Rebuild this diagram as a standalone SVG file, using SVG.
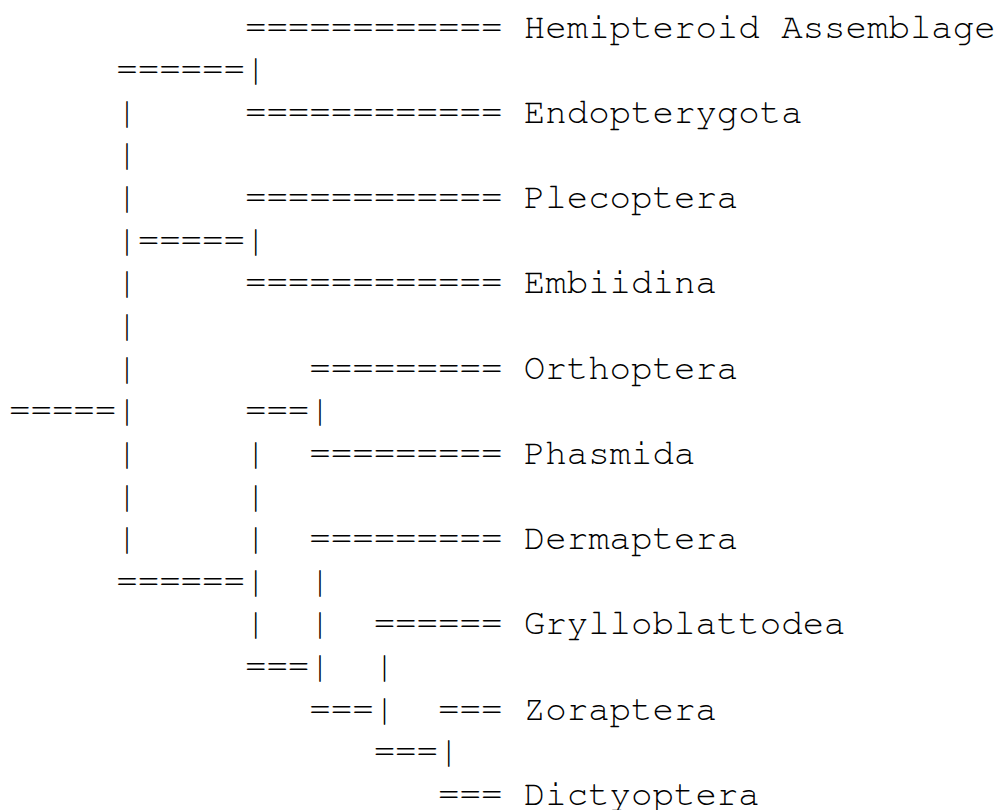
<svg xmlns="http://www.w3.org/2000/svg" width="1000" height="810" viewBox="0 0 1000 810">
<style>
text{font-family:"Nimbus Mono PS","Nimbus Mono L","FreeMono","Courier","Liberation Mono",monospace;font-size:35.75px;fill:#000}
</style>
<rect width="1000" height="810" fill="#fff"/>
<g id="connectors">
<text x="244.95" y="37.5">============</text>
<text x="116.25" y="80.14">======|</text>
<text x="116.25" y="122.78">|</text><text x="244.95" y="122.78">============</text>
<text x="116.25" y="165.42">|</text>
<text x="116.25" y="208.06">|</text><text x="244.95" y="208.06">============</text>
<text x="116.25" y="250.7">|=====|</text>
<text x="116.25" y="293.34">|</text><text x="244.95" y="293.34">============</text>
<text x="116.25" y="335.98">|</text>
<text x="116.25" y="378.62">|</text><text x="309.3" y="378.62">=========</text>
<text x="9" y="421.26">=====|</text><text x="244.95" y="421.26">===|</text>
<text x="116.25" y="463.9">|</text><text x="244.95" y="463.9">|</text><text x="309.3" y="463.9">=========</text>
<text x="116.25" y="506.54">|</text><text x="244.95" y="506.54">|</text>
<text x="116.25" y="549.18">|</text><text x="244.95" y="549.18">|</text><text x="309.3" y="549.18">=========</text>
<text x="116.25" y="591.82">======|</text><text x="309.3" y="591.82">|</text>
<text x="244.95" y="634.46">|</text><text x="309.3" y="634.46">|</text><text x="373.65" y="634.46">======</text>
<text x="244.95" y="677.1">===|</text><text x="373.65" y="677.1">|</text>
<text x="309.3" y="719.74">===|</text><text x="438" y="719.74">===</text>
<text x="373.65" y="762.38">===|</text>
<text x="438" y="805">===</text>
</g>
<g id="hemipteroid"><text x="523.8" y="37.5">Hemipteroid Assemblage</text></g>
<g id="endopterygota"><text x="523.8" y="122.78">Endopterygota</text></g>
<g id="plecoptera"><text x="523.8" y="208.06">Plecoptera</text></g>
<g id="embiidina"><text x="523.8" y="293.34">Embiidina</text></g>
<g id="orthoptera"><text x="523.8" y="378.62">Orthoptera</text></g>
<g id="phasmida"><text x="523.8" y="463.9">Phasmida</text></g>
<g id="dermaptera"><text x="523.8" y="549.18">Dermaptera</text></g>
<g id="grylloblattodea"><text x="523.8" y="634.46">Grylloblattodea</text></g>
<g id="zoraptera"><text x="523.8" y="719.74">Zoraptera</text></g>
<g id="dictyoptera"><text x="523.8" y="805">Dictyoptera</text></g>
</svg>
